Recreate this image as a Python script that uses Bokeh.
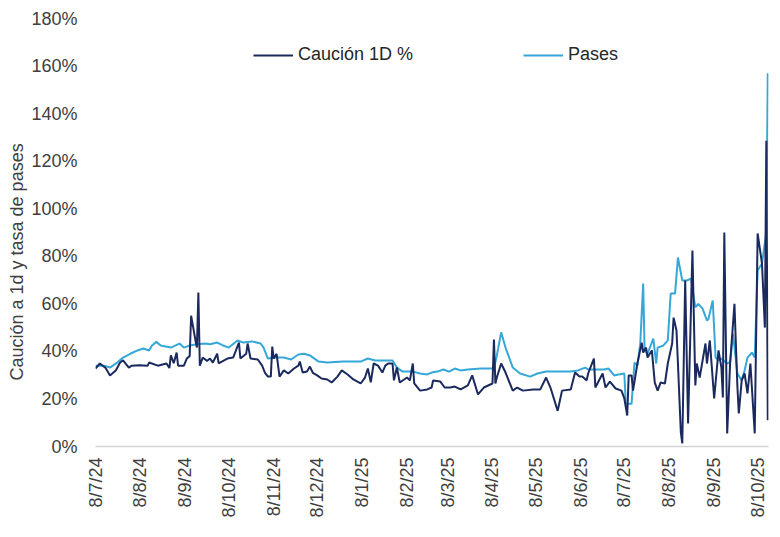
from math import pi

import pandas as pd
from bokeh.embed import file_html
from bokeh.models import (ColumnDataSource, FixedTicker, Legend, LegendItem,
                          PrintfTickFormatter, Range1d, Title)
from bokeh.plotting import figure
from bokeh.resources import INLINE

FONT = "Liberation Sans"

# Caución 1D (%), daily observations
caucion_dates = [
    "2024-07-08", "2024-07-11", "2024-07-15", "2024-07-18", "2024-07-22", "2024-07-25",
    "2024-07-27", "2024-07-31", "2024-08-02", "2024-08-07", "2024-08-13", "2024-08-14",
    "2024-08-20", "2024-08-26", "2024-08-28", "2024-08-29", "2024-08-31", "2024-09-02",
    "2024-09-03", "2024-09-07", "2024-09-09", "2024-09-11", "2024-09-12", "2024-09-15",
    "2024-09-16", "2024-09-17", "2024-09-18", "2024-09-20", "2024-09-23", "2024-09-25",
    "2024-09-27", "2024-09-30", "2024-10-01", "2024-10-07", "2024-10-11", "2024-10-15",
    "2024-10-16", "2024-10-20", "2024-10-21", "2024-10-23", "2024-10-28", "2024-10-31",
    "2024-11-02", "2024-11-04", "2024-11-06", "2024-11-07", "2024-11-08", "2024-11-10",
    "2024-11-12", "2024-11-15", "2024-11-18", "2024-11-22", "2024-11-25", "2024-11-26",
    "2024-11-28", "2024-12-01", "2024-12-03", "2024-12-05", "2024-12-08", "2024-12-11",
    "2024-12-15", "2024-12-18", "2024-12-22", "2024-12-25", "2024-12-29", "2025-01-02",
    "2025-01-07", "2025-01-10", "2025-01-12", "2025-01-14", "2025-01-16", "2025-01-19",
    "2025-01-22", "2025-01-24", "2025-01-26", "2025-01-29", "2025-01-30", "2025-02-01",
    "2025-02-03", "2025-02-08", "2025-02-10", "2025-02-12", "2025-02-13", "2025-02-17",
    "2025-02-22", "2025-02-25", "2025-02-26", "2025-03-03", "2025-03-06", "2025-03-10",
    "2025-03-13", "2025-03-17", "2025-03-22", "2025-03-25", "2025-03-29", "2025-04-02",
    "2025-04-08", "2025-04-09", "2025-04-10", "2025-04-11", "2025-04-14", "2025-04-17",
    "2025-04-22", "2025-04-25", "2025-04-29", "2025-05-06", "2025-05-11", "2025-05-15",
    "2025-05-18", "2025-05-23", "2025-05-26", "2025-06-01", "2025-06-04", "2025-06-07",
    "2025-06-09", "2025-06-12", "2025-06-13", "2025-06-17", "2025-06-18", "2025-06-23",
    "2025-06-25", "2025-06-28", "2025-07-02", "2025-07-06", "2025-07-08", "2025-07-10",
    "2025-07-11", "2025-07-13", "2025-07-14", "2025-07-17", "2025-07-20", "2025-07-21",
    "2025-07-23", "2025-07-24", "2025-07-27", "2025-07-29", "2025-07-31", "2025-08-02",
    "2025-08-05", "2025-08-07", "2025-08-10", "2025-08-11", "2025-08-13", "2025-08-14",
    "2025-08-16", "2025-08-17", "2025-08-19", "2025-08-21", "2025-08-24", "2025-08-26",
    "2025-08-27", "2025-08-29", "2025-09-02", "2025-09-03", "2025-09-05", "2025-09-08",
    "2025-09-11", "2025-09-13", "2025-09-14", "2025-09-15", "2025-09-17", "2025-09-19",
    "2025-09-22", "2025-09-24", "2025-09-25", "2025-09-27", "2025-09-29", "2025-10-01",
    "2025-10-03", "2025-10-06", "2025-10-08", "2025-10-11", "2025-10-13", "2025-10-14",
    "2025-10-15",
]
caucion_pct = [
    32.8, 34.9, 33.0, 29.9, 32.0, 35.3,
    36.2, 33.2, 34.0, 34.2, 34.0, 35.3,
    34.0, 34.9, 33.0, 38.3, 35.0, 39.5,
    34.0, 34.0, 37.0, 38.0, 55.0, 44.6,
    41.6, 64.8, 34.0, 37.4, 36.0, 37.0,
    35.3, 39.0, 35.0, 37.0, 37.4, 43.7,
    37.0, 39.0, 43.3, 37.0, 36.6, 34.0,
    31.0, 29.4, 29.4, 42.0, 37.0, 39.0,
    29.4, 32.0, 30.7, 32.8, 34.0, 35.7,
    31.1, 31.5, 33.6, 31.0, 29.9, 28.6,
    28.2, 26.9, 29.4, 32.0, 30.3, 28.2,
    26.5, 29.0, 32.8, 27.0, 34.9, 34.0,
    31.1, 34.0, 34.9, 34.9, 27.8, 33.2,
    26.9, 29.0, 27.8, 34.9, 26.5, 23.5,
    24.0, 24.8, 27.8, 27.3, 24.8, 24.8,
    25.2, 24.0, 25.7, 29.9, 21.9, 24.8,
    26.5, 45.0, 26.5, 29.0, 34.9, 31.1,
    23.5, 24.8, 23.5, 24.0, 24.0, 29.0,
    24.8, 15.0, 23.5, 24.0, 31.1, 29.4,
    29.4, 27.8, 30.7, 37.0, 24.8, 30.7,
    24.8, 27.3, 24.4, 23.5, 20.2, 13.0,
    29.9, 29.9, 23.5, 34.9, 43.7, 39.5,
    41.6, 37.4, 40.4, 26.9, 23.5, 26.9,
    26.5, 34.9, 43.3, 54.2, 48.8, 34.9,
    5.9, 1.3, 69.8, 9.7, 82.4, 25.7,
    34.9, 29.0, 43.3, 34.9, 44.6, 20.2,
    40.4, 33.2, 20.6, 90.0, 5.5, 34.9,
    60.0, 25.7, 13.9, 27.8, 30.7, 22.3,
    34.9, 5.5, 89.6, 77.0, 50.0, 128.6,
    11.0,
]

# Tasa de pases (%)
pases_dates = [
    "2024-07-08", "2024-07-14", "2024-07-18", "2024-07-23", "2024-07-27", "2024-08-01",
    "2024-08-06", "2024-08-10", "2024-08-14", "2024-08-16", "2024-08-19", "2024-08-22",
    "2024-08-29", "2024-09-04", "2024-09-07", "2024-09-11", "2024-09-16", "2024-09-22",
    "2024-09-25", "2024-09-30", "2024-10-04", "2024-10-08", "2024-10-14", "2024-10-18",
    "2024-10-24", "2024-10-30", "2024-11-01", "2024-11-04", "2024-11-09", "2024-11-15",
    "2024-11-20", "2024-11-25", "2024-11-29", "2024-12-03", "2024-12-09", "2024-12-15",
    "2024-12-26", "2025-01-07", "2025-01-12", "2025-01-17", "2025-01-29", "2025-02-01",
    "2025-02-05", "2025-02-12", "2025-02-17", "2025-02-22", "2025-02-25", "2025-03-01",
    "2025-03-05", "2025-03-09", "2025-03-13", "2025-03-17", "2025-03-22", "2025-03-31",
    "2025-04-09", "2025-04-11", "2025-04-14", "2025-04-17", "2025-04-22", "2025-04-27",
    "2025-05-04", "2025-05-09", "2025-05-15", "2025-05-23", "2025-06-01", "2025-06-06",
    "2025-06-11", "2025-06-13", "2025-06-20", "2025-06-24", "2025-06-27", "2025-07-01",
    "2025-07-04", "2025-07-08", "2025-07-09", "2025-07-13", "2025-07-15", "2025-07-17",
    "2025-07-19", "2025-07-21", "2025-07-22", "2025-07-24", "2025-07-28", "2025-07-30",
    "2025-07-31", "2025-08-04", "2025-08-07", "2025-08-09", "2025-08-12", "2025-08-14",
    "2025-08-17", "2025-08-20", "2025-08-23", "2025-08-26", "2025-08-28", "2025-08-31",
    "2025-09-03", "2025-09-04", "2025-09-07", "2025-09-09", "2025-09-11", "2025-09-13",
    "2025-09-17", "2025-09-19", "2025-09-21", "2025-09-24", "2025-09-27", "2025-09-29",
    "2025-10-01", "2025-10-04", "2025-10-06", "2025-10-08", "2025-10-11", "2025-10-14",
    "2025-10-15",
]
pases_pct = [
    34.0, 34.0, 33.2, 35.3, 37.4, 39.0,
    40.4, 41.2, 40.4, 42.5, 44.0, 42.5,
    41.6, 43.3, 41.6, 42.5, 43.0, 43.3,
    43.0, 43.7, 42.5, 41.6, 44.6, 43.7,
    44.2, 43.3, 41.6, 37.0, 37.4, 37.4,
    36.6, 38.7, 39.0, 38.3, 35.7, 35.3,
    35.7, 35.7, 37.0, 36.2, 36.2, 33.2,
    31.5, 31.5, 30.7, 30.3, 31.1, 31.5,
    32.4, 31.5, 32.8, 32.0, 32.4, 32.8,
    32.8, 38.3, 48.0, 41.6, 33.2, 30.7,
    29.4, 30.7, 31.5, 31.5, 31.5, 32.0,
    33.2, 32.4, 32.4, 32.4, 32.8, 29.9,
    30.3, 30.7, 18.0, 18.0, 35.3, 34.0,
    43.3, 68.5, 40.4, 39.0, 45.4, 34.9,
    41.6, 42.5, 44.6, 64.3, 64.3, 79.5,
    69.8, 69.8, 70.6, 58.5, 60.0, 58.0,
    53.0, 53.5, 61.4, 37.4, 36.2, 37.0,
    34.9, 35.5, 47.5, 30.7, 27.8, 32.0,
    37.4, 39.5, 37.4, 74.0, 77.0, 90.0,
    157.0,
]

# Monthly x-axis ticks (d/m/yy)
tick_dates = [
    "2024-07-08", "2024-08-08", "2024-09-08", "2024-10-08", "2024-11-08", "2024-12-08",
    "2025-01-08", "2025-02-08", "2025-03-08", "2025-04-08", "2025-05-08", "2025-06-08",
    "2025-07-08", "2025-08-08", "2025-09-08", "2025-10-08",
]
tick_labels = [
    "8/7/24", "8/8/24", "8/9/24", "8/10/24", "8/11/24", "8/12/24",
    "8/1/25", "8/2/25", "8/3/25", "8/4/25", "8/5/25", "8/6/25",
    "8/7/25", "8/8/25", "8/9/25", "8/10/25",
]
y_ticks = [0, 20, 40, 60, 80, 100, 120, 140, 160, 180]

NAVY = "#1b2a5e"
LIGHT = "#35a8d8"
TEXT = "#404040"

caucion_src = ColumnDataSource(dict(x=pd.to_datetime(caucion_dates), y=caucion_pct))
pases_src = ColumnDataSource(dict(x=pd.to_datetime(pases_dates), y=pases_pct))

p = figure(
    width=780, height=537,
    x_axis_type="datetime",
    x_range=Range1d(pd.Timestamp("2024-07-08"), pd.Timestamp("2025-10-15 12:00")),
    y_range=Range1d(0, 180),
    output_backend="svg", toolbar_location=None,
    min_border_left=95, min_border_right=12, min_border_top=18, min_border_bottom=91,
    outline_line_color=None, background_fill_color="white", border_fill_color="white",
)

r_pases = p.line("x", "y", source=pases_src, line_color=LIGHT, line_width=2)
r_cauc = p.line("x", "y", source=caucion_src, line_color=NAVY, line_width=2)

p.xgrid.visible = False
p.ygrid.visible = False

# x axis: monthly labels, rotated
tick_ms = [pd.Timestamp(d).value // 10**6 for d in tick_dates]
p.xaxis.ticker = FixedTicker(ticks=tick_ms)
p.xaxis.major_label_overrides = {t: lab for t, lab in zip(tick_ms, tick_labels)}
p.xaxis.major_label_orientation = pi / 2
p.xaxis.axis_line_color = "#d4d4d4"
p.xaxis.axis_line_width = 1.5
p.xaxis.major_tick_line_color = None
p.xaxis.minor_tick_line_color = None
p.xaxis.major_tick_out = 0
p.xaxis.major_tick_in = 0
p.xaxis.major_label_standoff = 11
p.xaxis.major_label_text_font = FONT
p.xaxis.major_label_text_font_size = "18px"
p.xaxis.major_label_text_color = TEXT

# y axis: percentages, no axis line
p.yaxis.ticker = FixedTicker(ticks=y_ticks)
p.yaxis.formatter = PrintfTickFormatter(format="%d%%")
p.yaxis.axis_line_color = None
p.yaxis.major_tick_line_color = None
p.yaxis.minor_tick_line_color = None
p.yaxis.major_tick_out = 0
p.yaxis.major_tick_in = 0
p.yaxis.major_label_standoff = 18
p.yaxis.major_label_text_font = FONT
p.yaxis.major_label_text_font_size = "18px"
p.yaxis.major_label_text_color = TEXT

# y-axis title, started a fixed distance above the frame bottom
p.add_layout(Title(
    text="Caución a 1d y tasa de pases", align="left", offset=66, standoff=4,
    text_font=FONT, text_font_size="18px", text_font_style="normal",
    text_color=TEXT,
), "left")

legend = Legend(
    items=[LegendItem(label="Caución 1D %", renderers=[r_cauc]),
           LegendItem(label="Pases", renderers=[r_pases])],
    location=(158, 381), orientation="horizontal",
    border_line_color=None, background_fill_alpha=0,
    padding=0, margin=0, spacing=110,
    glyph_width=40, glyph_height=20, label_height=20, label_standoff=5,
    label_text_font=FONT, label_text_font_size="18px", label_text_color="#262626",
)
p.add_layout(legend)

open("out.html", "w").write(file_html(p, INLINE))
